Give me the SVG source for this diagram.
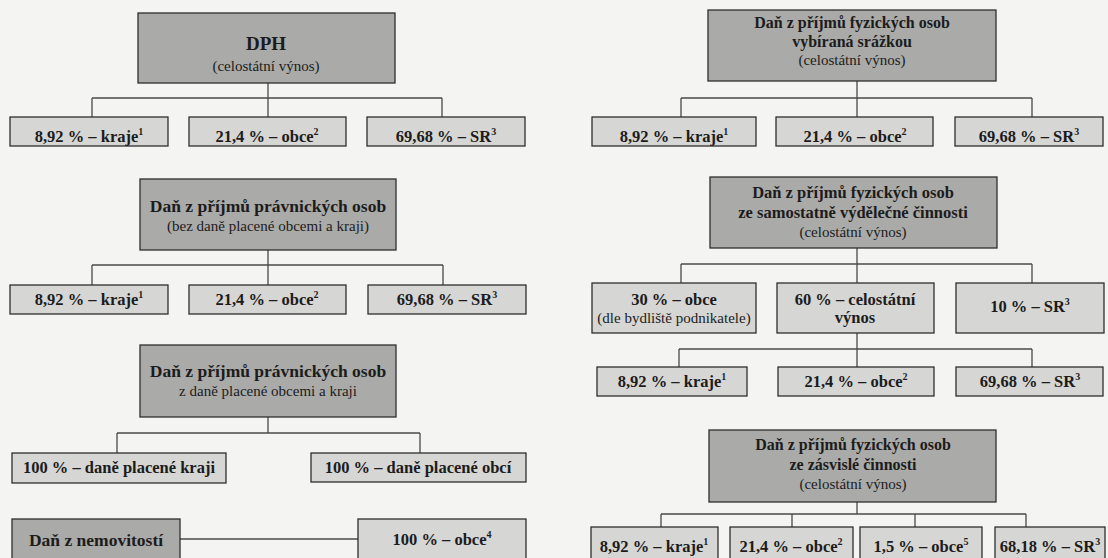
<svg xmlns="http://www.w3.org/2000/svg" width="1108" height="558" viewBox="0 0 1108 558">
<style>
.hd{fill:#aaaaa8;stroke:#2e2e2e;stroke-width:1.3}
.lf{fill:#d6d6d4;stroke:#2e2e2e;stroke-width:1.3}
.cn{fill:none;stroke:#4a4a4a;stroke-width:1.3}
text{fill:#1c1c1c;text-anchor:middle}
.b{font-weight:bold;font-size:16.5px}
.t{font-weight:bold;font-size:17.5px}
.t2{font-weight:bold;font-size:16.5px}
.s{font-size:15px}
.sup{font-size:10px}
</style>
<rect width="1108" height="558" fill="#f4f4f2"/>
<g id="connectors">
<path class="cn" d="M268 83V98M92 98H442M92 98V117M268 98V117M442 98V117"/>
<path class="cn" d="M268 250V265M92 265H443M92 265V285M268 265V285M443 265V285"/>
<path class="cn" d="M268 417V433M117 433H420M117 433V453M420 433V453"/>
<path class="cn" d="M180 539H358"/>
<path class="cn" d="M857 81V98M681 98H1032M681 98V117M857 98V117M1032 98V117"/>
<path class="cn" d="M857 248V264M681 264H1032M681 264V283M857 264V283M1032 264V283"/>
<path class="cn" d="M857 333V349M679 349H1032M679 349V367M857 349V367M1032 349V367"/>
<path class="cn" d="M857 502V514M661 514H1026M661 514V527M792 514V527M915 514V527M1026 514V527"/>
</g>
<g font-family="Liberation Serif, Times New Roman, DejaVu Serif, serif">
<g id="dph"><rect class="hd" x="138" y="13" width="257" height="70"/><text class="t" x="266" y="50" style="font-size:19px">DPH</text><text class="s" x="266" y="71">(celostátní výnos)</text></g>
<g id="dph-kraje"><rect class="lf" x="10" y="117" width="158" height="29"/><text class="b" x="89" y="142">8,92 % – kraje<tspan class="sup" dy="-7">1</tspan></text></g>
<g id="dph-obce"><rect class="lf" x="189" y="117" width="157" height="29"/><text class="b" x="267" y="142">21,4 % – obce<tspan class="sup" dy="-7">2</tspan></text></g>
<g id="dph-sr"><rect class="lf" x="367" y="117" width="158" height="29"/><text class="b" x="446" y="142">69,68 % – SR<tspan class="sup" dy="-7">3</tspan></text></g>

<g id="dppo"><rect class="hd" x="140" y="179" width="256" height="71"/><text class="t" x="268" y="212">Daň z příjmů právnických osob</text><text class="s" x="268" y="231">(bez daně placené obcemi a kraji)</text></g>
<g id="dppo-kraje"><rect class="lf" x="10" y="285" width="158" height="29"/><text class="b" x="89" y="305">8,92 % – kraje<tspan class="sup" dy="-7">1</tspan></text></g>
<g id="dppo-obce"><rect class="lf" x="189" y="285" width="157" height="29"/><text class="b" x="267" y="305">21,4 % – obce<tspan class="sup" dy="-7">2</tspan></text></g>
<g id="dppo-sr"><rect class="lf" x="368" y="285" width="158" height="29"/><text class="b" x="447" y="305">69,68 % – SR<tspan class="sup" dy="-7">3</tspan></text></g>

<g id="dppo2"><rect class="hd" x="140" y="345" width="256" height="72"/><text class="t" x="268" y="377">Daň z příjmů právnických osob</text><text class="s" x="268" y="396">z daně placené obcemi a kraji</text></g>
<g id="dppo2-kraje"><rect class="lf" x="12" y="453" width="214" height="30"/><text class="b" x="119" y="473">100 % – daně placené kraji</text></g>
<g id="dppo2-obce"><rect class="lf" x="311" y="453" width="215" height="29"/><text class="b" x="418" y="473">100 % – daně placené obcí</text></g>

<g id="dn"><rect class="hd" x="12" y="519" width="168" height="45"/><text class="t" x="96" y="546">Daň z nemovitostí</text></g>
<g id="dn-obce"><rect class="lf" x="358" y="519" width="168" height="45"/><text class="b" x="442" y="545">100 % – obce<tspan class="sup" dy="-7">4</tspan></text></g>

<g id="dpfo1"><rect class="hd" x="708" y="10" width="288" height="71"/><text class="t2" x="852" y="28" style="font-size:16px">Daň z příjmů fyzických osob</text><text class="t2" x="852" y="47" style="font-size:16px">vybíraná srážkou</text><text class="s" x="852" y="65">(celostátní výnos)</text></g>
<g id="dpfo1-kraje"><rect class="lf" x="592" y="117" width="164" height="29"/><text class="b" x="674" y="142">8,92 % – kraje<tspan class="sup" dy="-7">1</tspan></text></g>
<g id="dpfo1-obce"><rect class="lf" x="776" y="117" width="157" height="29"/><text class="b" x="855" y="142">21,4 % – obce<tspan class="sup" dy="-7">2</tspan></text></g>
<g id="dpfo1-sr"><rect class="lf" x="955" y="117" width="148" height="29"/><text class="b" x="1029" y="142">69,68 % – SR<tspan class="sup" dy="-7">3</tspan></text></g>

<g id="dpfo2"><rect class="hd" x="710" y="177" width="287" height="71"/><text class="t2" x="853" y="198">Daň z příjmů fyzických osob</text><text class="t2" x="853" y="218">ze samostatně výdělečné činnosti</text><text class="s" x="853" y="237">(celostátní výnos)</text></g>
<g id="dpfo2-obce"><rect class="lf" x="592" y="283" width="164" height="50"/><text class="b" x="674" y="305">30 % – obce</text><text class="s" x="674" y="323">(dle bydliště podnikatele)</text></g>
<g id="dpfo2-cv"><rect class="lf" x="777" y="283" width="157" height="50"/><text class="b" x="855" y="305">60 % – celostátní</text><text class="b" x="855" y="323">výnos</text></g>
<g id="dpfo2-sr"><rect class="lf" x="956" y="283" width="148" height="50"/><text class="b" x="1030" y="312">10 % – SR<tspan class="sup" dy="-7">3</tspan></text></g>
<g id="cv-kraje"><rect class="lf" x="597" y="367" width="150" height="29"/><text class="b" x="672" y="387">8,92 % – kraje<tspan class="sup" dy="-7">1</tspan></text></g>
<g id="cv-obce"><rect class="lf" x="778" y="367" width="156" height="29"/><text class="b" x="856" y="387">21,4 % – obce<tspan class="sup" dy="-7">2</tspan></text></g>
<g id="cv-sr"><rect class="lf" x="956" y="367" width="147" height="29"/><text class="b" x="1030" y="387">69,68 % – SR<tspan class="sup" dy="-7">3</tspan></text></g>

<g id="dpfo3"><rect class="hd" x="709" y="430" width="287" height="72"/><text class="t2" x="853" y="450" style="font-size:16px">Daň z příjmů fyzických osob</text><text class="t2" x="853" y="470" style="font-size:16px">ze zásvislé činnosti</text><text class="s" x="853" y="489">(celostátní výnos)</text></g>
<g id="dpfo3-kraje"><rect class="lf" x="591" y="527" width="127" height="35"/><text class="b" x="654" y="552">8,92 % – kraje<tspan class="sup" dy="-7">1</tspan></text></g>
<g id="dpfo3-obce"><rect class="lf" x="730" y="527" width="123" height="35"/><text class="b" x="791" y="552">21,4 % – obce<tspan class="sup" dy="-7">2</tspan></text></g>
<g id="dpfo3-obce5"><rect class="lf" x="860" y="527" width="122" height="35"/><text class="b" x="921" y="552">1,5 % – obce<tspan class="sup" dy="-7">5</tspan></text></g>
<g id="dpfo3-sr"><rect class="lf" x="995" y="527" width="110" height="35"/><text class="b" x="1050" y="552">68,18 % – SR<tspan class="sup" dy="-7">3</tspan></text></g>
</g>
</svg>
